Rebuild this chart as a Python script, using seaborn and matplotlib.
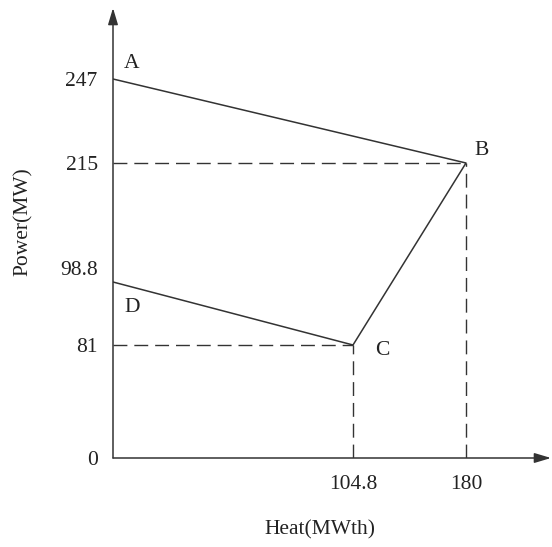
import numpy as np
import seaborn as sns
import matplotlib.pyplot as plt
from matplotlib.transforms import ScaledTranslation

# operating points A, B, C, D of the feasible region
point_names = ['A', 'B', 'C', 'D']
heat = [0, 180, 104.8, 0]
power = [247, 215, 81, 98.8]

# tick values shown on the axes
x_ticks = [0, 104.8, 180]
y_ticks = [0, 81, 98.8, 215, 247]
x_tick_labels = ['', '104.8', '180']
y_tick_labels = ['0', '81', '98.8', '215', '247']

# schematic axes: where each tick sits (pixels from the origin)
x_tick_pos = [0, 240, 353]
y_tick_pos = [0, 113, 176, 295, 379]


def piecewise(vals, pos):
    v = np.asarray(vals, float)
    p = np.asarray(pos, float)
    lo = (p[1] - p[0]) / (v[1] - v[0])
    hi = (p[-1] - p[-2]) / (v[-1] - v[-2])
    v = np.r_[v[0] - 1e4, v, v[-1] + 1e4]
    p = np.r_[p[0] - 1e4 * lo, p, p[-1] + 1e4 * hi]
    fwd = lambda x: np.interp(x, v, p)
    inv = lambda y: np.interp(y, p, v)
    return fwd, inv


sns.set_theme(style='white')
plt.rcParams['font.family'] = ['Liberation Serif', 'DejaVu Serif']
ink = '#333333'

fig = plt.figure(figsize=(5.52, 5.47), dpi=100)
ax = fig.add_axes([113 / 552, 89 / 547, 438 / 552, 450 / 547])

xf, xi = piecewise(x_ticks, x_tick_pos)
yf, yi = piecewise(y_ticks, y_tick_pos)
ax.set_xscale('function', functions=(xf, xi))
ax.set_yscale('function', functions=(yf, yi))
ax.set_xlim(0, float(xi(438)))
ax.set_ylim(0, float(yi(450)))

# boundary A-B-C-D
sns.lineplot(x=heat, y=power, sort=False, estimator=None, color=ink,
             linewidth=1.1, ax=ax)

# dashed guides to B and C
guide_x = [heat[1], heat[2]]
guide_y = [power[1], power[2]]
ax.hlines(guide_y, 0, guide_x, colors=ink, linestyles=(0, (10, 5)), linewidth=1.0)
ax.vlines(guide_x, 0, guide_y, colors=ink, linestyles=(0, (10, 5)), linewidth=1.0)

# point labels
offsets = [(13, 11), (11, 9), (21, -4), (14, -18)]
for name, x, y, off in zip(point_names, heat, power, offsets):
    ax.annotate(name, (x, y), xytext=off, textcoords='offset points',
                ha='center', va='center', fontsize=15.5, color='#222222')

# axes drawn as arrows
for end in [(1, 0), (0, 1)]:
    ax.annotate('', xy=end, xytext=(0, 0), xycoords='axes fraction',
                arrowprops=dict(arrowstyle='-|>,head_length=1.0,head_width=0.3',
                                mutation_scale=10, color=ink, lw=1.1,
                                shrinkA=0, shrinkB=0))
for s in ax.spines.values():
    s.set_visible(False)

ax.set_xticks(x_ticks, x_tick_labels)
ax.set_yticks(y_ticks, y_tick_labels)
ax.tick_params(axis='x', length=0, pad=12, labelsize=15.5, labelcolor='#222222')
ax.tick_params(axis='y', length=0, pad=11, labelsize=15.5, labelcolor='#222222')
ax.minorticks_off()
ax.grid(False)

# the 98.8 label sits a little above its line
lbl = ax.get_yticklabels()[2]
lbl.set_transform(lbl.get_transform() + ScaledTranslation(0, 10 / 72, fig.dpi_scale_trans))

ax.set_xlabel('Heat(MWth)', fontsize=15.5, color='#222222')
ax.set_ylabel('Power(MW)', fontsize=15.5, color='#222222')
ax.xaxis.set_label_coords((320 - 113) / 438, (458 - 530) / 450)
ax.xaxis.label.set_va('center')
ax.yaxis.set_label_coords((23 - 113) / 438, (458 - 222) / 450)
ax.yaxis.label.set_va('center')

fig.savefig('out.png', dpi=100)
